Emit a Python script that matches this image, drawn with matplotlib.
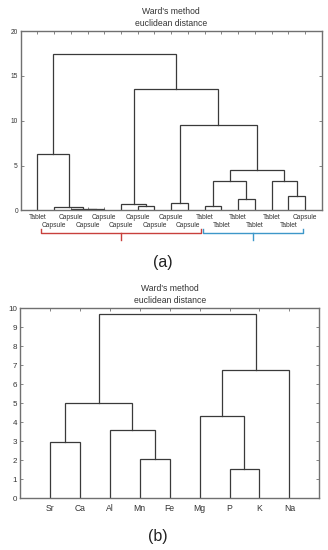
import matplotlib.pyplot as plt
import matplotlib.transforms as mtransforms

plt.rcParams['font.family'] = ['Liberation Sans', 'DejaVu Sans']

# (a) tablets / capsules
leaves_a = ['Tablet', 'Capsule', 'Capsule', 'Capsule', 'Capsule', 'Capsule',
            'Capsule', 'Capsule', 'Capsule', 'Capsule', 'Tablet', 'Tablet',
            'Tablet', 'Tablet', 'Tablet', 'Tablet', 'Capsule']
# merges: (node, node, height), new node ids follow the leaves
merge_left_a = [3, 2, 1, 0, 6, 5, 8, 10, 12, 24, 15, 14, 26, 23, 22, 20]
merge_right_a = [4, 17, 18, 19, 7, 21, 9, 11, 13, 25, 16, 27, 28, 29, 30, 31]
merge_height_a = [0.1, 0.2, 0.4, 6.3, 0.45, 0.7, 0.8, 0.5, 1.3, 3.25,
                  1.65, 3.3, 4.45, 9.5, 13.5, 17.4]

# (b) elements
leaves_b = ['Sr', 'Ca', 'Al', 'Mn', 'Fe', 'Mg', 'P', 'K', 'Na']
merge_left_b = [0, 3, 2, 9, 6, 5, 14, 12]
merge_right_b = [1, 4, 10, 11, 7, 13, 8, 15]
merge_height_b = [2.97, 2.04, 3.58, 4.99, 1.51, 4.32, 6.75, 9.68]

LINE = '#3a3a3a'
SPINE = '#707070'


def dendro(ax, leaves, left, right, height, ymax, ystep, tick_fs):
    n = len(leaves)
    pos = {i: i + 1 for i in range(n)}
    h = {i: 0.0 for i in range(n)}
    for k, (a, b, hh) in enumerate(zip(left, right, height)):
        xa, xb = pos[a], pos[b]
        ax.plot([xa, xa, xb, xb], [h[a], hh, hh, h[b]], color=LINE, lw=0.9,
                solid_joinstyle='miter')
        pos[n + k] = (xa + xb) / 2
        h[n + k] = hh
    ax.set_xlim(0, n + 1)
    ax.set_ylim(0, ymax)
    ax.set_yticks(range(0, ymax + 1, ystep))
    ax.set_xticks(range(1, n + 1))
    ax.tick_params(direction='in', length=2, width=0.6, color=SPINE,
                   top=True, right=True, labelsize=tick_fs, pad=2,
                   labelcolor='#333333')
    for s in ax.spines.values():
        s.set_color(SPINE)
        s.set_linewidth(1.0)
    ax.set_title("Ward's method\neuclidean distance", fontsize=6.2,
                 color='#333333', linespacing=1.35, pad=4)


fig = plt.figure(figsize=(3.28, 5.5), dpi=100)

ax1 = fig.add_axes([0.063, 0.6175, 0.918, 0.326])
dendro(ax1, leaves_a, merge_left_a, merge_right_a, merge_height_a, 20, 5, 4.8)
ax1.set_xticklabels([])
trans = mtransforms.blended_transform_factory(ax1.transData, ax1.transAxes)
for i, lab in enumerate(leaves_a):
    yy = -0.041 if i % 2 == 0 else -0.083
    ax1.text(i + 1, yy, lab, transform=trans, ha='center', va='center',
             fontsize=4.8, color='#333333')

brackets = [(1.2, 10.8, '#c8403c'), (10.9, 16.85, '#3d97c9')]
for lo, hi, c in brackets:
    mid = (lo + hi) / 2
    ax1.plot([lo, lo, hi, hi], [-0.105, -0.124, -0.124, -0.105], color=c,
             lw=1.0, transform=trans, clip_on=False)
    ax1.plot([mid, mid], [-0.124, -0.165], color=c, lw=1.0,
             transform=trans, clip_on=False)
fig.text(0.497, 0.523, '(a)', ha='center', va='center', fontsize=11.5,
         color='#222222')

ax2 = fig.add_axes([0.061, 0.0945, 0.9125, 0.345])
dendro(ax2, leaves_b, merge_left_b, merge_right_b, merge_height_b, 10, 1, 5.8)
ax2.set_xticklabels(leaves_b, fontsize=6.2)
ax2.tick_params(axis='x', pad=4)
fig.text(0.482, 0.025, '(b)', ha='center', va='center', fontsize=11.5,
         color='#222222')

fig.savefig('out.png', dpi=100)
